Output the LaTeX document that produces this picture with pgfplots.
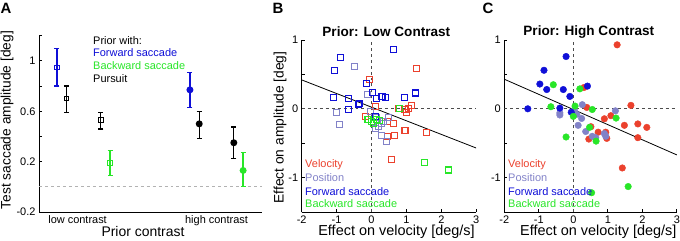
\documentclass[border=0pt]{standalone}
\usepackage{fontspec}
\setmainfont{Liberation Sans}
\usepackage{pgfplots}
\pgfplotsset{compat=1.18}
\definecolor{velred}{RGB}{235,65,45}
\definecolor{posgray}{RGB}{130,130,200}
\definecolor{fwdblue}{RGB}{15,15,215}
\definecolor{bwdgreen}{RGB}{40,230,40}
\pgfplotsset{
  mystyle/.style={
    scale only axis,
    anchor=south west,
    axis x line*=bottom, axis y line*=left,
    axis line style={line width=0.9bp, black, -},
    tick align=inside,
    major tick length=3bp, minor tick length=3bp,
    tick style={line width=0.8bp, black},
    tick label style={font=\fontsize{11}{13}\selectfont},
  },
  ebar/.style={only marks, line width=1.3bp,
    error bars/y dir=both, error bars/y explicit,
    error bars/error bar style={line width=1.3bp},
    error bars/error mark options={rotate=90, line width=1.3bp, mark size=2.5bp}},
  sq/.style={only marks, mark=square, mark size=3bp, line width=1.1bp},
  ci/.style={only marks, mark=*, mark size=3.3bp, mark options={draw=#1, fill=#1}, color=#1},
}
\begin{document}
\begin{tikzpicture}[x=1bp,y=1bp]
\path[use as bounding box] (0,0) rectangle (680,240);
% ---------------- Panel A
\begin{axis}[mystyle, at={(39bp,28bp)}, width=223bp, height=176.3bp,
  xmin=0.665, xmax=2.342, ymin=-0.2, ymax=1.2,
  xtick={0.955,2}, xticklabels={low contrast, high contrast},
  x tick style={draw=none},
  ytick={-0.2,0,0.2,0.4,0.6,0.8,1,1.2},
  yticklabels={-0.2,,0.2,,0.6,,1,}]
\addplot[gray!60, dashed, line width=0.8bp] coordinates {(0.665,0) (2.342,0)};
\addplot[fwdblue, ebar, mark=square, mark size=2.2bp, mark options={line width=0.9bp, fill=white}]
  coordinates {(0.80,0.95) += (0,0.15) -= (0,0.15)};
\addplot[black, ebar, mark=square, mark size=2.2bp, mark options={line width=0.9bp, fill=white}]
  coordinates {(0.87,0.70) += (0,0.10) -= (0,0.11) (1.13,0.53) += (0,0.06) -= (0,0.07)};
\addplot[bwdgreen, ebar, mark=square, mark size=2.2bp, mark options={line width=0.9bp, fill=white}]
  coordinates {(1.20,0.19) += (0,0.10) -= (0,0.10)};
\addplot[fwdblue, ebar, mark=*, mark size=2.8bp]
  coordinates {(1.80,0.77) += (0,0.14) -= (0,0.14)};
\addplot[black, ebar, mark=*, mark size=2.8bp]
  coordinates {(1.87,0.50) += (0,0.10) -= (0,0.115) (2.13,0.35) += (0,0.125) -= (0,0.125)};
\addplot[bwdgreen, ebar, mark=*, mark size=2.8bp]
  coordinates {(2.20,0.13) += (0,0.14) -= (0,0.13)};
\end{axis}
% ---------------- Panel B
\begin{axis}[mystyle, at={(301.7bp,28bp)}, width=174.5bp, height=172bp,
  xmin=-2, xmax=3, ymin=-1.5, ymax=1,
  xtick={-2,-1,0,1,2,3}, xticklabels={-2,-1,0,1,2,3},
  ytick={-1.5,-1,-0.5,0,0.5,1}, yticklabels={,-1,,0,,1}]
\addplot[black!70, dashed, line width=0.7bp] coordinates {(-2,0) (3,0)};
\addplot[black!70, dashed, line width=0.7bp] coordinates {(0,-1.5) (0,1)};
\addplot[black, line width=0.8bp] coordinates {(-2,0.42) (3,-0.57)};
\addplot[sq, color=velred] coordinates {
(-0.05,0.42) (1.29,0.58) (0.11,0.03) (-0.17,-0.11) (0.45,-0.18) (0.64,-0.21)
(0.45,-0.40) (0.65,-0.39) (0.96,-0.32) (1.57,-0.35) (0.57,-0.74) (0.96,-0.015)
(0.99,-0.06) (1.05,0.0) (1.15,0.05) (0.77,0.0)};
\addplot[sq, color=posgray] coordinates {
(-0.48,0.61) (-0.12,0.21) (-1.01,-0.06) (-0.91,-0.23) (-0.02,-0.04) (0.48,-0.13)
(0.29,-0.22) (0.19,-0.26) (0.11,-0.28) (0.29,-0.39) (0.43,-0.48) (0.34,-0.19) (0.14,-0.13)};
\addplot[sq, color=fwdblue] coordinates {
(0.62,0.86) (-0.89,0.74) (-1.05,0.56) (-0.14,0.37) (0.03,0.24) (-1.10,0.165)
(-0.67,0.155) (-0.38,0.06) (-0.34,0.08) (-0.67,-0.015) (0.14,0.145) (0.30,0.18)
(0.40,0.16) (0.94,0.16) (1.26,0.23) (0.11,-0.11)};
\addplot[sq, color=bwdgreen] coordinates {
(1.53,-0.78) (2.20,-0.89) (-0.10,-0.16) (0.0,-0.19) (0.05,-0.21) (0.14,-0.16)
(0.24,-0.17) (0.79,0.01)};
\end{axis}
% ---------------- Panel C
\begin{axis}[mystyle, at={(504.3bp,28bp)}, width=172.5bp, height=172bp,
  xmin=-2, xmax=3, ymin=-1.5, ymax=1,
  xtick={-2,-1,0,1,2,3}, xticklabels={-2,-1,0,1,2,3},
  ytick={-1.5,-1,-0.5,0,0.5,1}, yticklabels={,-1,,0,,1}]
\addplot[black!70, dashed, line width=0.7bp] coordinates {(-2,0) (3,0)};
\addplot[black!70, dashed, line width=0.7bp] coordinates {(0,-1.5) (0,1)};
\addplot[ci=velred] coordinates {
(1.27,0.93) (0.31,0.31) (0.39,0.02) (1.67,0.05) (0.90,-0.145) (1.09,-0.10)
(1.48,-0.24) (1.87,-0.22) (2.13,-0.27) (1.87,-0.42) (0.51,-0.26) (0.72,-0.34)
(0.94,-0.34) (0.45,-0.44) (0.97,-0.43) (1.42,-0.86)};
\addplot[ci=posgray] coordinates {
(0.26,0.06) (-0.39,-0.06) (-0.39,-0.09) (0.10,-0.08) (0.24,-0.14) (0.14,-0.24)
(1.22,-0.03) (0.36,-0.33) (0.55,-0.40) (0.65,-0.42) (0.90,-0.36) (0.94,-0.40) (0.03,-0.02)};
\addplot[ci=fwdblue] coordinates {
(-0.21,0.76) (-0.85,0.56) (-0.97,0.36) (-0.77,0.28) (-0.29,0.28) (-0.10,0.18)
(-1.32,0.0) (-0.39,0.01) (-0.06,-0.05) (0.41,0.33)};
\addplot[ci=bwdgreen] coordinates {
(-0.58,0.35) (0.19,0.29) (-0.65,0.03) (0.05,0.04) (0.0,-0.11) (0.55,-0.01)
(1.24,-0.135) (-0.21,-0.41) (0.47,-0.27) (0.66,-0.47) (0.53,-1.22) (1.59,-1.13)};
\addplot[black, line width=0.8bp] coordinates {(-2,0.43) (3,-0.67)};
\end{axis}
% ---------------- Texts
\node[font=\fontsize{15}{17}\selectfont\bfseries] at (6,232) {A};
\node[font=\fontsize{15}{17}\selectfont\bfseries] at (278,232) {B};
\node[font=\fontsize{15}{17}\selectfont\bfseries] at (488,232) {C};
\node[font=\fontsize{13.6}{15}\selectfont\bfseries] at (386.3,208.3) {Prior: Low Contrast};
\node[font=\fontsize{13.6}{15}\selectfont\bfseries] at (588.8,208.3) {Prior: High Contrast};
\node[font=\fontsize{13.8}{15}\selectfont, rotate=90] at (7,120) {Test saccade amplitude [deg]};
\node[font=\fontsize{13.8}{15}\selectfont, rotate=90] at (280,112.5) {Effect on amplitude [deg]};
\node[font=\fontsize{14}{16}\selectfont] at (143,8) {Prior contrast};
\node[font=\fontsize{14.5}{16}\selectfont] at (396.5,8) {Effect on velocity [deg/s]};
\node[font=\fontsize{14.5}{16}\selectfont] at (598.3,8) {Effect on velocity [deg/s]};
% legends
\begin{scope}[every node/.style={anchor=west, inner sep=0pt, font=\fontsize{11}{13}\selectfont}]
\node[text=black] at (93,199) {Prior with:};
\node[text=fwdblue] at (93,187) {Forward saccade};
\node[text=bwdgreen] at (93,174) {Backward saccade};
\node[text=black] at (93,161) {Pursuit};
\node[text=velred] at (305,75) {Velocity};
\node[text=posgray] at (305,62) {Position};
\node[text=fwdblue] at (305,48.5) {Forward saccade};
\node[text=bwdgreen] at (305,36) {Backward saccade};
\node[text=velred] at (508,75) {Velocity};
\node[text=posgray] at (508,62) {Position};
\node[text=fwdblue] at (508,48.5) {Forward saccade};
\node[text=bwdgreen] at (508,36) {Backward saccade};
\end{scope}
\end{tikzpicture}
\end{document}
